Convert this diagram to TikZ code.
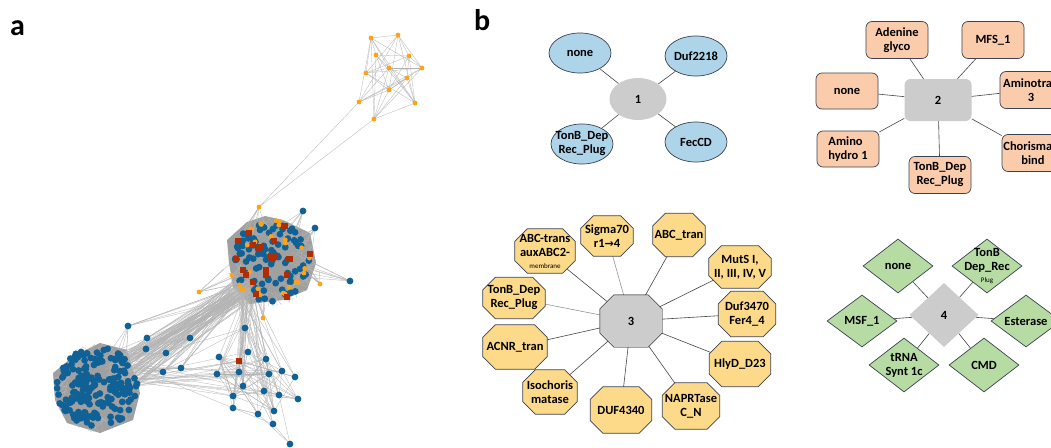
\documentclass[tikz,border=0pt]{standalone}
\usepackage{fontspec}
\setmainfont{Carlito}
\newfontfamily\dvfont{DejaVu Sans}
\usetikzlibrary{shapes.geometric,calc}
\definecolor{nblue}{RGB}{16,98,150}
\definecolor{norange}{RGB}{255,163,20}
\definecolor{nred}{RGB}{175,45,0}
\definecolor{edgegray}{RGB}{180,180,180}
\definecolor{blobgray}{RGB}{160,160,160}
\definecolor{cgray}{RGB}{204,204,204}
\definecolor{lblue}{RGB}{174,212,234}
\definecolor{peach}{RGB}{251,204,172}
\definecolor{lyellow}{RGB}{253,218,138}
\definecolor{lgreen}{RGB}{182,219,163}
\definecolor{bdark}{RGB}{60,66,84}
\definecolor{ldark}{RGB}{70,70,70}
\definecolor{llight}{RGB}{150,150,150}
\pgfdeclarelayer{bglayer}
\pgfdeclarelayer{edgelayer}
\pgfdeclarelayer{shapelayer}
\pgfsetlayers{bglayer,edgelayer,shapelayer,main}
\tikzset{
  nedge/.style={draw=edgegray, line width=0.3pt},
  lbl/.style={font=\fontsize{12.5}{14}\selectfont\bfseries, align=center, text=black, inner sep=0pt},
  bnode/.style={draw=bdark, line width=0.7pt, inner sep=0pt},
  ellnode/.style={bnode, ellipse, fill=lblue, minimum width=62pt, minimum height=40pt},
  rectnode/.style={bnode, rectangle, rounded corners=6pt, fill=peach, minimum width=62pt, minimum height=37pt},
  octbox/.style={rectangle, inner sep=0pt, minimum width=60pt, minimum height=44pt},
  octfill/.style={fill=lyellow, draw=bdark, line width=0.7pt},
  dianode/.style={bnode, diamond, fill=lgreen, minimum width=70pt, minimum height=54pt},
  bedge/.style={draw=ldark, line width=0.6pt},
  ledge/.style={draw=llight, line width=0.6pt},
  panel/.style={font=\fontsize{30}{30}\selectfont\bfseries, inner sep=0pt, anchor=base west}
}
\newcommand\octo[3]{%
  \filldraw[#3] ($(#1.north west)+(#2,0)$) -- ($(#1.north east)+(-#2,0)$) -- ($(#1.north east)+(0,#2)$) -- ($(#1.south east)+(0,-#2)$) -- ($(#1.south east)+(-#2,0)$) -- ($(#1.south west)+(#2,0)$) -- ($(#1.south west)+(0,-#2)$) -- ($(#1.north west)+(0,#2)$) -- cycle;}
\begin{document}
\begin{tikzpicture}[x=1pt,y=-1pt]
\useasboundingbox (0,0) rectangle (1051,447);
\begin{pgfonlayer}{bglayer}
\fill[white] (0,0) rectangle (1051,447);
\end{pgfonlayer}
\clip (0,0) rectangle (1051,447);
\pgfmathsetseed{4242}
% ---------------- panel a ----------------
\node[panel] (la) at (10,35) {a};
% top right cluster
\def\TRx{{371,398,376,409,422,366,389,407,389,359,415,374}}
\def\TRy{{38,35,55,56,68,73,68,78,90,102,103,119}}
\foreach \i in {0,...,10}{
  \foreach \j in {\i,...,11}{
    \pgfmathsetmacro\rr{rnd}
    \ifnum\i<\j \ifdim\rr pt>0.3pt
      \draw[nedge] ({\TRx[\i]},{\TRy[\i]}) -- ({\TRx[\j]},{\TRy[\j]});
    \fi\fi
  }
}
\draw[nedge] (359,102) -- (259,207);
\draw[nedge] (374,119) -- (259,207);
% blobs
\fill[blobgray] (53,373) -- (75,355) -- (100,343) -- (127,350) -- (140,393) -- (133,420) -- (100,433) -- (67,423) -- (55,400) -- cycle;
\fill[blobgray] (227,240) -- (247,222) -- (265,216) -- (283,220) -- (310,233) -- (316,263) -- (307,290) -- (283,300) -- (250,304) -- (233,287) -- (229,263) -- cycle;
% bottom middle cluster
\def\BMx{{245,248,219,266,239,217,239,269,282,295,243,264,233,279,298,233,258,274,273,290}}
\def\BMy{{328,352,357,359,361,374,372,374,371,377,386,391,396,395,399,408,414,411,424,444}}
\foreach \k in {1,...,70}{
  \pgfmathtruncatemacro\ia{random(0,18)}
  \pgfmathtruncatemacro\ib{random(0,18)}
  \draw[nedge] ({\BMx[\ia]},{\BMy[\ia]}) -- ({\BMx[\ib]},{\BMy[\ib]});
}
\draw[nedge] (290,444) -- (273,424);
\draw[nedge] (290,444) -- (279,395);
\draw[nedge] (290,444) -- (258,414);
% bridges from BL to middle
\foreach \k in {1,...,70}{
  \pgfmathsetmacro\aa{rnd*360}\pgfmathsetmacro\ra{20*sqrt(rnd)}
  \pgfmathsetmacro\ab{rnd*360}\pgfmathsetmacro\rb{14*sqrt(rnd)}
  \draw[nedge] ({124+\ra*cos(\aa)},{372+\ra*sin(\aa)}) -- ({243+\rb*cos(\ab)},{290+\rb*sin(\ab)});
}
% middle to BM nodes
\foreach \k in {1,...,45}{
  \pgfmathsetmacro\ab{rnd*360}\pgfmathsetmacro\rb{10*sqrt(rnd)}
  \pgfmathtruncatemacro\ia{random(0,18)}
  \draw[nedge] ({246+\rb*cos(\ab)},{296+\rb*sin(\ab)}) -- ({\BMx[\ia]},{\BMy[\ia]});
}
% BL to BM nodes
\foreach \k in {1,...,25}{
  \pgfmathsetmacro\aa{rnd*360}\pgfmathsetmacro\ra{15*sqrt(rnd)}
  \pgfmathtruncatemacro\ia{random(0,15)}
  \draw[nedge] ({128+\ra*cos(\aa)},{375+\ra*sin(\aa)}) -- ({\BMx[\ia]},{\BMy[\ia]});
}
% intermediate nodes
\def\IMx{{147,146,166,190,181,163,128}}
\def\IMy{{338,349,353,338,368,372,326}}
\foreach \i in {0,...,6}{
  \foreach \k in {1,...,5}{
    \pgfmathsetmacro\aa{rnd*360}\pgfmathsetmacro\ra{16*sqrt(rnd)}
    \pgfmathsetmacro\ab{rnd*360}\pgfmathsetmacro\rb{12*sqrt(rnd)}
    \draw[nedge] ({\IMx[\i]},{\IMy[\i]}) -- ({118+\ra*cos(\aa)},{365+\ra*sin(\aa)});
    \draw[nedge] ({\IMx[\i]},{\IMy[\i]}) -- ({242+\rb*cos(\ab)},{288+\rb*sin(\ab)});
  }
}
% outliers around middle
\def\OUx{{350,199,303,315,320,263,259}}
\def\OUy{{281,292,211,228,284,318,207}}
\def\OCx{{300,238,285,300,305,262,255}}
\def\OCy{{265,275,235,245,270,295,235}}
\foreach \i in {0,...,6}{
  \foreach \k in {1,...,7}{
    \pgfmathsetmacro\aa{rnd*360}\pgfmathsetmacro\ra{16*sqrt(rnd)}
    \draw[nedge] ({\OUx[\i]},{\OUy[\i]}) -- ({\OCx[\i]+\ra*cos(\aa)},{\OCy[\i]+\ra*sin(\aa)});
  }
}
% fuzz lines around blobs
\foreach \k in {1,...,60}{
  \pgfmathsetmacro\aa{rnd*360}\pgfmathsetmacro\ab{\aa+rnd*90-45}
  \draw[nedge] ({271+44*cos(\aa)},{262+44*sin(\aa)}) -- ({271+30*cos(\ab)},{262+30*sin(\ab)});
}
\foreach \k in {1,...,40}{
  \pgfmathsetmacro\aa{rnd*360}\pgfmathsetmacro\ab{\aa+rnd*90-45}
  \draw[nedge] ({97+43*cos(\aa)},{388+44*sin(\aa)}) -- ({97+30*cos(\ab)},{388+30*sin(\ab)});
}
% --- node dots ---
\foreach \i in {0,...,11}{
  \fill[norange] ({\TRx[\i]},{\TRy[\i]}) circle (2.4);
}
\foreach \k in {1,...,190}{
  \pgfmathsetmacro\aa{rnd*360}\pgfmathsetmacro\ra{41*sqrt(rnd)}
  \fill[nblue] ({97+\ra*cos(\aa)},{388+\ra*sin(\aa)}) circle (3.4);
}
\foreach \k in {1,...,95}{
  \pgfmathsetmacro\aa{rnd*360}\pgfmathsetmacro\ra{40*sqrt(rnd)}
  \fill[nblue] ({271+\ra*cos(\aa)},{262+\ra*sin(\aa)}) circle (3.4);
}
\foreach \k in {1,...,28}{
  \pgfmathsetmacro\aa{rnd*360}\pgfmathsetmacro\ra{42*(0.55+0.45*rnd)}
  \fill[norange] ({271+\ra*cos(\aa)},{262+\ra*sin(\aa)}) circle (2.4);
}
\foreach \k in {1,...,22}{
  \pgfmathsetmacro\aa{rnd*360}\pgfmathsetmacro\ra{40*sqrt(rnd)}
  \fill[nred] ({271+\ra*cos(\aa)-3},{262+\ra*sin(\aa)-3}) rectangle ++(6,6);
}
\foreach \i in {0,1,2,3,5,6,7,8,9,10,11,12,13,14,15,16,17,18,19}{
  \fill[nblue] ({\BMx[\i]},{\BMy[\i]}) circle (3.4);
}
\fill[nred] (236,358) rectangle ++(6,6);
\foreach \i in {0,...,6}{
  \fill[nblue] ({\IMx[\i]},{\IMy[\i]}) circle (3.4);
}
\fill[nblue] (350,281) circle (3.4);
\fill[nblue] (303,211) circle (3.4);
\fill[nblue] (315,228) circle (3.4);
\fill[norange] (199,292) circle (2.4);
\fill[norange] (320,284) circle (2.4);
\fill[norange] (263,318) circle (2.4);
\fill[norange] (259,207) circle (2.4);
% ---------------- panel b ----------------
\node[panel] (lb) at (474,30) {b};
% cluster 1
\node[ellipse, fill=cgray, minimum width=57pt, minimum height=42pt, inner sep=0pt, label={[lbl]center:1}] (c1) at (638,99) {};
\node[ellnode, label={[lbl]center:none}] (e1a) at (580,53) {};
\node[ellnode, label={[lbl]center:Duf2218}] (e1b) at (696,56) {};
\node[ellnode, label={[lbl]center:{TonB\_Dep\\Rec\_Plug}}] (e1c) at (582,144) {};
\node[ellnode, label={[lbl]center:FecCD}] (e1d) at (696,142) {};
\foreach \n in {e1a,e1b,e1c,e1d}{\draw[bedge] (c1) -- (\n);}
% cluster 2
\node[rectangle, rounded corners=6pt, fill=cgray, minimum width=67pt, minimum height=42pt, inner sep=0pt, label={[lbl]center:2}] (c2) at (938,100) {};
\node[rectnode, label={[lbl]center:{Adenine\\glyco}}] (r2a) at (897,40) {};
\node[rectnode, label={[lbl]center:MFS\_1}] (r2b) at (993,40) {};
\node[rectnode, minimum height=36pt, label={[lbl]center:none}] (r2c) at (847,91) {};
\node[rectnode, label={[lbl]center:{Aminotran\\3}}] (r2d) at (1031,90) {};
\node[rectnode, minimum height=36pt, label={[lbl, align=left]center:{Amino\\hydro 1}}] (r2e) at (848,149) {};
\node[rectnode, label={[lbl]center:{TonB\_Dep\\Rec\_Plug}}] (r2f) at (940,175) {};
\node[rectnode, label={[lbl]center:{Chorismate\\bind}}] (r2g) at (1033,153) {};
\foreach \n in {r2a,r2b,r2c,r2d,r2e,r2f,r2g}{\draw[bedge] (c2) -- (\n);}
% cluster 3 (octagons drawn on a layer below the labels)
\node[octbox, minimum width=62pt, minimum height=52pt, label={[lbl]center:3}] (c3) at (631,321) {};
\node[octbox, minimum width=52pt, minimum height=40pt, label={[lbl]center:{Sigma70\\r1{\dvfont\bfseries\fontsize{11}{12}\selectfont →}4}}] (o3a) at (607,236) {};
\node[octbox, minimum width=52pt, minimum height=43pt, label={[lbl]center:ABC\_tran}] (o3b) at (679,235) {};
\node[octbox, label={[lbl]center:{ABC-trans\\auxABC2-\\[-2pt]{\fontsize{7}{8}\selectfont\mdseries membrane}}}] (o3c) at (545,251) {};
\node[octbox, minimum width=62pt, minimum height=42pt, label={[lbl]center:{MutS I,\\II, III, IV, V}}] (o3d) at (740,267) {};
\node[octbox, minimum width=62pt, minimum height=41pt, label={[lbl]center:{TonB\_Dep\\Rec\_Plug}}] (o3e) at (514,298) {};
\node[octbox, minimum width=57pt, minimum height=45pt, label={[lbl]center:{Duf3470\\Fer4\_4}}] (o3f) at (747,314) {};
\node[octbox, minimum width=64pt, label={[lbl]center:ACNR\_tran}] (o3g) at (515,347) {};
\node[octbox, minimum width=61pt, minimum height=45pt, label={[lbl]center:HlyD\_D23}] (o3h) at (740,364) {};
\node[octbox, minimum width=54pt, label={[lbl]center:{Isochoris\\matase}}] (o3i) at (550,392) {};
\node[octbox, minimum width=61pt, minimum height=46pt, label={[lbl]center:DUF4340}] (o3j) at (621,410) {};
\node[octbox, minimum width=57pt, minimum height=46pt, label={[lbl]center:{NAPRTase\\C\_N}}] (o3k) at (691,406) {};
\begin{pgfonlayer}{shapelayer}
\octo{c3}{14}{fill=cgray}
\foreach \n in {o3a,o3b,o3c,o3d,o3e,o3f,o3g,o3h,o3i,o3j,o3k}{\octo{\n}{12.5}{octfill}}
\end{pgfonlayer}
\begin{pgfonlayer}{edgelayer}
\foreach \n in {o3b,o3c,o3d,o3f,o3g,o3h,o3i,o3j,o3k}{\draw[bedge] (c3.center) -- (\n.center);}
\foreach \n in {o3a,o3e}{\draw[ledge] (c3.center) -- (\n.center);}
\end{pgfonlayer}
% cluster 4
\node[diamond, fill=cgray, minimum width=69pt, minimum height=64pt, inner sep=0pt, label={[lbl]center:4}] (c4) at (944,315) {};
\node[dianode, label={[lbl]center:none}] (d4a) at (898,266) {};
\node[dianode, label={[lbl]center:{TonB\\Dep\_Rec\\[-2pt]{\fontsize{7}{8}\selectfont\mdseries Plug}}}] (d4b) at (987,266) {};
\node[dianode, minimum height=52pt, label={[lbl]center:MSF\_1}] (d4c) at (862,321) {};
\node[dianode, minimum height=52pt, label={[lbl]center:Esterase}] (d4d) at (1026,321) {};
\node[dianode, label={[lbl]center:{tRNA\\Synt 1c}}] (d4e) at (904,365) {};
\node[dianode, label={[lbl]center:CMD}] (d4f) at (984,365) {};
\foreach \n in {d4a,d4b,d4c,d4d,d4e,d4f}{\draw[bedge] (c4) -- (\n);}
\end{tikzpicture}
\end{document}
